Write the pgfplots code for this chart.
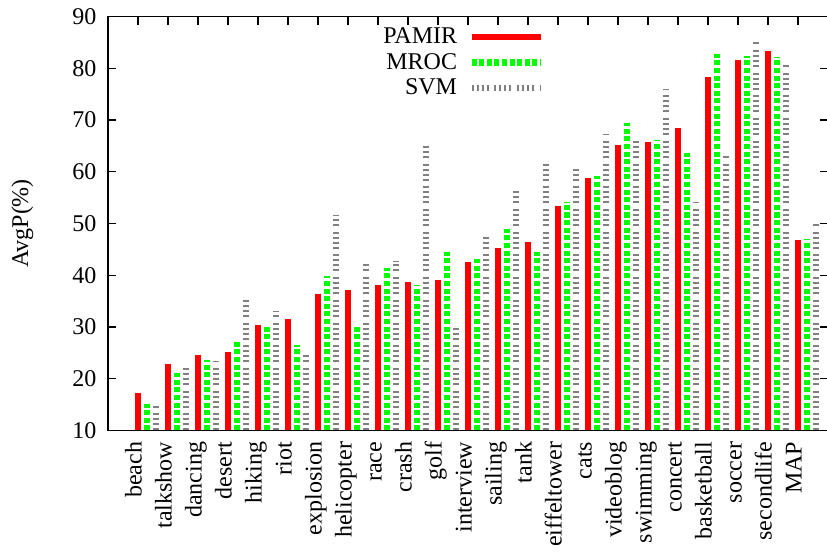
\documentclass[border=0pt]{standalone}
\usepackage{fontspec}
\setmainfont{Liberation Serif}
\usepackage{pgfplots}
\usepackage{pgfplotstable}
\pgfplotsset{compat=1.18}
\definecolor{cpamir}{RGB}{255,0,0}
\definecolor{cmroc}{RGB}{0,255,0}
\definecolor{csvm}{RGB}{128,128,128}
\pgfplotstableread{
x pamir mroc svm
0 17.3 15.0 14.8
1 22.8 21.1 22.1
2 24.6 23.6 23.4
3 25.2 27.0 35.4
4 30.4 30.0 33.1
5 31.5 26.5 24.6
6 36.4 39.8 51.7
7 37.1 30.0 42.2
8 38.1 41.4 42.7
9 38.6 38.1 65.2
10 39.1 44.5 29.9
11 42.5 43.1 47.4
12 45.2 49.0 56.3
13 46.5 44.5 61.7
14 53.4 54.1 60.7
15 58.7 59.2 67.3
16 65.2 69.4 66.1
17 65.7 66.1 76.0
18 68.5 63.6 54.2
19 78.3 82.8 63.0
20 81.7 82.3 85.0
21 83.3 82.1 80.8
22 46.8 47.0 49.9
}\datatable
\begin{document}
\begin{tikzpicture}
\begin{axis}[
  scale only axis,
  width=720bp, height=413.7bp,
  at={(0,0)}, anchor=south west,
  xmin=-1, xmax=23, ymin=10, ymax=90,
  ycomb,
  axis line style={line width=1.6bp},
  every tick/.style={black, line width=1.3bp},
  major tick length=8bp,
  xtick={0,...,22},
  xticklabels={beach,talkshow,dancing,desert,hiking,riot,explosion,helicopter,race,crash,golf,interview,sailing,tank,eiffeltower,cats,videoblog,swimming,concert,basketball,soccer,secondlife,MAP},
  xtick pos=right, xticklabel pos=left,
  ytick={10,20,...,90},
  ytick pos=both, yticklabel pos=left,
  /pgf/number format/assume math mode=true,
  ticklabel style={font=\fontsize{24bp}{28bp}\selectfont},
  xticklabel style={rotate=90, anchor=east, text height=0.71em, text depth=0pt},
  xticklabel shift=8bp,
  yticklabel shift=8bp,
  ylabel={AvgP(\%)},
  every axis y label/.style={font=\fontsize{24bp}{28bp}\selectfont, at={(axis description cs:-0.1111,0.5)}, anchor=base, rotate=90},
  legend plot pos=right,
  legend cell align=right,
  legend style={draw=none, fill=none, at={(rel axis cs:0.6056,0.982)}, anchor=north east,
    font=\fontsize{24bp}{28bp}\selectfont, inner sep=0pt, row sep=0pt, column sep=9bp,
    nodes={inner sep=2.25bp, text height=17bp, text depth=4bp}},
  legend image code/.code={\draw[#1] (0bp,0bp) -- (69bp,0bp);},
]
\addplot[color=cpamir, line width=6.5bp] table[x=x, y=pamir] {\datatable};
\addlegendentry{PAMIR}
\addplot[color=cmroc, line width=6.5bp, dash pattern=on 5bp off 2.6bp] table[x expr=\thisrow{x}+0.3, y=mroc] {\datatable};
\addlegendentry{MROC}
\addplot[color=csvm, line width=6.5bp, dash pattern=on 2bp off 3bp on 2bp off 3bp on 2bp off 3bp on 2bp off 5.7bp] table[x expr=\thisrow{x}+0.6, y=svm] {\datatable};
\addlegendentry{SVM}
\end{axis}
\pgfresetboundingbox
\path (-108bp,-125.7bp) rectangle (719bp,430.3bp);
\end{tikzpicture}
\end{document}
